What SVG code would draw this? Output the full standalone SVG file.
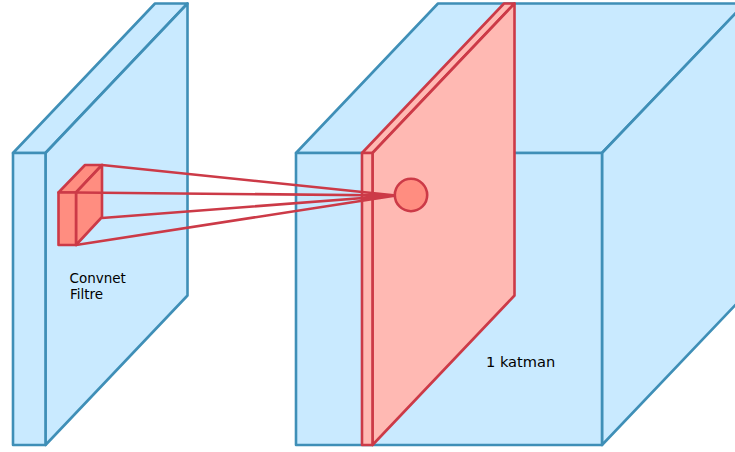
<svg xmlns="http://www.w3.org/2000/svg" width="735" height="452" viewBox="0 0 735 452">
<style>
.b{fill:#c9eaff;stroke:#3f8fb7;stroke-width:2.6;stroke-linejoin:round}
.r{fill:#ffb9b3;stroke:#cc3a47;stroke-width:2.6;stroke-linejoin:round}
.d{fill:#ff8d80;stroke:#cc3a47;stroke-width:2.6;stroke-linejoin:round}
.c{fill:none;stroke:#cc3a47;stroke-width:2.6}
text{font-family:"DejaVu Sans",sans-serif;fill:#000}
</style>
<rect width="735" height="452" fill="#fff"/>
<g id="left-volume">
<path class="b" d="M13 153L155 3.500H187.500L45.500 153Z"/>
<path class="b" d="M45.500 153L187.500 3.500V295.500L45.500 445Z"/>
<rect class="b" x="13" y="153" width="32.500" height="292"/>
</g>
<g id="right-volume">
<path class="b" d="M296 153L438 3.500H745L602 153Z"/>
<path class="b" d="M602 153L745 3.500V295L602 445Z"/>
<rect class="b" x="296" y="153" width="306" height="292"/>
</g>
<g id="layer-slice">
<path class="r" d="M362 153L504 3.500H514.500L372.500 153Z"/>
<path class="r" d="M372.500 153L514.500 3.500V295.500L372.500 445Z"/>
<rect class="r" x="362" y="153" width="10.500" height="292"/>
</g>
<g id="filter-cube">
<path class="d" d="M58.500 192.500L85 165H102L76 192.500Z"/>
<path class="d" d="M76 192.500L102 165V217L76 245Z"/>
<rect class="d" x="58.500" y="192.500" width="17.500" height="52.500"/>
</g>
<g id="connectors">
<path class="c" d="M102 165L396 195.500M76 192.500L396 195.500M102 218L396 195.500M76 245L396 195.500"/>
</g>
<g id="neuron">
<circle class="d" cx="411" cy="195" r="16.200"/>
</g>
<g id="label-filter">
<text x="69.500" y="283" font-size="13.500">Convnet</text>
<text x="70" y="299" font-size="13.500">Filtre</text>
</g>
<g id="label-layer">
<text x="486" y="367" font-size="14.600">1 katman</text>
</g>
</svg>
